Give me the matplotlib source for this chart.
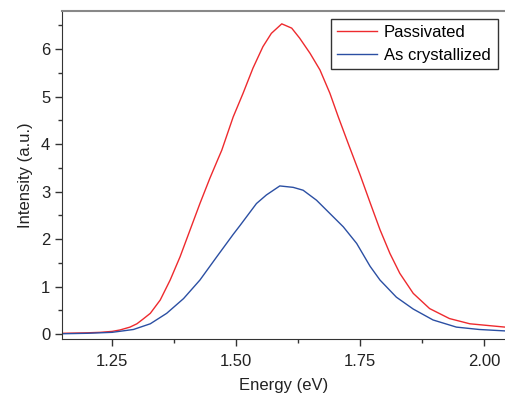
import numpy as np
import matplotlib
matplotlib.use("Agg")
from matplotlib import pyplot as plt
from matplotlib.ticker import MultipleLocator, FormatStrFormatter

plt.rcParams['font.family'] = ['Liberation Sans', 'DejaVu Sans']

# values
e_pass = [1.15, 1.20, 1.226, 1.25, 1.266, 1.286, 1.30, 1.3125, 1.327, 1.347,
          1.367, 1.387, 1.407, 1.427, 1.447, 1.464, 1.471, 1.494, 1.514, 1.534,
          1.554, 1.571, 1.592, 1.612, 1.628, 1.649, 1.669, 1.689, 1.706, 1.726,
          1.75, 1.77, 1.79, 1.81, 1.83, 1.857, 1.89, 1.93, 1.971, 2.042]
i_pass = [0.02, 0.03, 0.04, 0.06, 0.09, 0.15, 0.22, 0.32, 0.44, 0.72,
          1.14, 1.63, 2.19, 2.75, 3.28, 3.70, 3.87, 4.57, 5.07, 5.60,
          6.05, 6.33, 6.53, 6.44, 6.23, 5.91, 5.56, 5.07, 4.57, 4.01,
          3.35, 2.77, 2.20, 1.70, 1.28, 0.86, 0.54, 0.33, 0.22, 0.15]

e_cryst = [1.15, 1.20, 1.25, 1.293, 1.31, 1.327, 1.36, 1.394, 1.427, 1.461,
           1.494, 1.508, 1.541, 1.561, 1.588, 1.615, 1.635, 1.662, 1.689, 1.716,
           1.743, 1.77, 1.79, 1.823, 1.857, 1.897, 1.944, 1.99, 2.042]
i_cryst = [0.01, 0.02, 0.04, 0.10, 0.16, 0.22, 0.44, 0.75, 1.14, 1.63,
           2.10, 2.29, 2.75, 2.93, 3.12, 3.09, 3.03, 2.82, 2.54, 2.26,
           1.91, 1.43, 1.14, 0.78, 0.53, 0.30, 0.15, 0.10, 0.07]

fig = plt.figure(figsize=(5.05, 3.99), dpi=100)
ax = fig.add_axes([0.1228, 0.1504, 0.8772, 0.822])

ax.plot(e_pass, i_pass, color='#ee2a2e', lw=1.0, label='Passivated')
ax.plot(e_cryst, i_cryst, color='#2b4fa3', lw=1.0, label='As crystallized')

ax.set_xlim(1.149, 2.042)
ax.set_ylim(-0.1, 6.8)
ax.xaxis.set_major_locator(MultipleLocator(0.25))
ax.xaxis.set_minor_locator(MultipleLocator(0.125))
ax.yaxis.set_major_locator(MultipleLocator(1))
ax.yaxis.set_minor_locator(MultipleLocator(0.5))
ax.xaxis.set_major_formatter(FormatStrFormatter('%.2f'))

ax.tick_params(which='major', length=5, width=1, labelsize=12, color='#333333', labelcolor='#222222')
ax.tick_params(which='minor', length=3, width=1, color='#333333')
ax.tick_params(axis='x', pad=6)

ax.spines['right'].set_visible(False)
ax.spines['top'].set_color('#888888')
ax.spines['top'].set_linewidth(1.5)
ax.spines['left'].set_color('#333333')
ax.spines['bottom'].set_color('#333333')

ax.set_xlabel('Energy (eV)', fontsize=12, color='#222222', labelpad=6)
ax.set_ylabel('Intensity (a.u.)', fontsize=12, color='#222222', labelpad=6)

leg = ax.legend(loc='upper right', fontsize=12, frameon=True, fancybox=False,
                edgecolor='black', handlelength=2.4, borderaxespad=0.45,
                borderpad=0.4, labelspacing=0.45, handletextpad=0.4)
leg.get_frame().set_linewidth(1.0)

fig.savefig('out.png', dpi=100)
